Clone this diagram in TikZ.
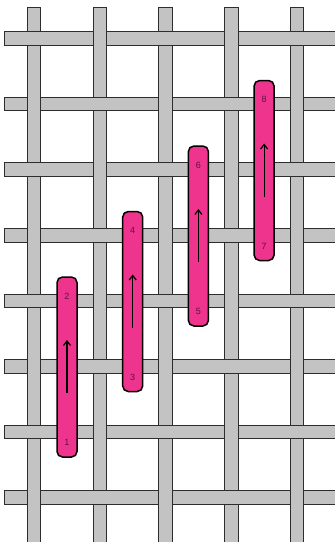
\documentclass[tikz,border=0pt]{standalone}
\usepackage{fontspec}
\setmainfont{Liberation Sans}
\usetikzlibrary{arrows.meta}
\definecolor{threadgray}{RGB}{195,195,195}
\definecolor{threadline}{RGB}{45,45,45}
\definecolor{stitchpink}{RGB}{238,52,140}
\definecolor{numcol}{RGB}{90,20,70}

\begin{document}
\begin{tikzpicture}[
            x=1pt, y=-1pt,
            thread/.style={fill=threadgray, draw=threadline, line width=0.9pt},
            edgeline/.style={draw=threadline, line width=0.9pt},
            stitch/.style={rectangle, rounded corners=5.5pt, fill=stitchpink, draw=black, line width=1.5pt,
                           minimum width=20pt, minimum height=180pt, inner sep=0pt},
            num/.style={font=\fontsize{9}{10}\selectfont, text=numcol, inner sep=0pt},
            pull/.style={-{Straight Barb[length=4.5pt,width=7pt]}, line width=1.2pt}
        ]
        \useasboundingbox (0,0) rectangle (335,542);
        \fill[white] (0,0) rectangle (335,542);

        % --- Horizontal threads ---
        \foreach \r in {1,...,8}
            \draw[thread] (4,{38.5+65.57*(\r-1)-6.75}) rectangle (338,{38.5+65.57*(\r-1)+6.75});

        % --- Vertical threads ---
        \foreach \c in {1,...,5}
            \draw[thread] ({34+65.75*(\c-1)-6.75},7) rectangle ({34+65.75*(\c-1)+6.75},545);

        % --- Weave: horizontal on top where r+c is even ---
        \foreach \r in {1,...,8}
            \foreach \c in {1,...,5}{
                \pgfmathtruncatemacro\hov{mod(\r+\c,2)}
                \ifnum\hov=0
                    \pgfmathsetmacro\xc{34+65.75*(\c-1)}
                    \pgfmathsetmacro\yc{38.5+65.57*(\r-1)}
                    \fill[threadgray] (\xc-7.5,\yc-6.3) rectangle (\xc+7.5,\yc+6.3);
                    \draw[edgeline] (\xc-7.5,\yc-6.75) -- (\xc+7.5,\yc-6.75)
                                    (\xc-7.5,\yc+6.75) -- (\xc+7.5,\yc+6.75);
                \fi
            }

        % --- Stitches ---
        \foreach \k/\lo/\hi in {0/1/2, 1/3/4, 2/5/6, 3/7/8}{
            \node[stitch] (s\lo) at ({67+65.7*\k},{367-65.5*\k}) {};
            \node[num] (n\lo) at ([yshift=15pt]s\lo.south) {\lo};
            \node[num] (n\hi) at ([yshift=-20pt]s\lo.north) {\hi};
            \draw[pull] ([yshift=-26pt]s\lo.center) -- ([yshift=27pt]s\lo.center);
        }
        \end{tikzpicture}
\end{document}
